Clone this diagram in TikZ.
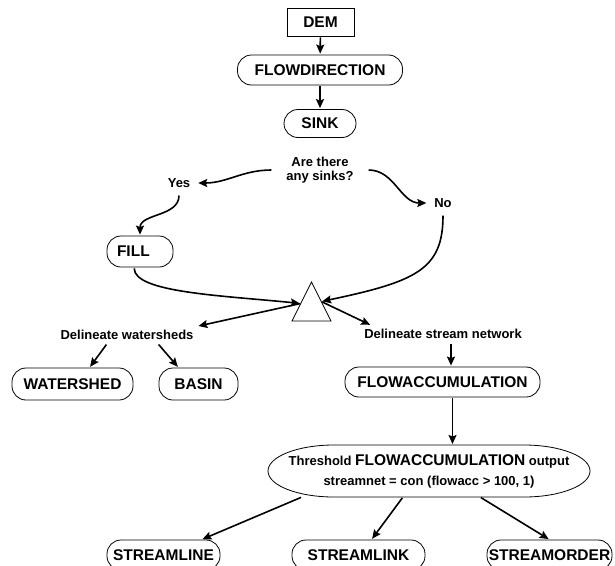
\documentclass[tikz,border=0pt]{standalone}
\usepackage{fontspec}
\setmainfont{Liberation Sans}
\usetikzlibrary{arrows.meta,calc}
\tikzstyle{edge}  =[->, >={Stealth[length=9pt,width=8pt,inset=1.5pt]},
                    line width=1.6pt, shorten <=1pt, shorten >=1pt]
\tikzstyle{tool}  =[draw, rounded corners=14pt, line width=0.8pt,
                    inner sep=0pt, minimum height=30pt,
                    font=\bfseries\fontsize{15.5}{18}\selectfont]
\tikzstyle{note}  =[inner sep=2pt, outer sep=2pt, align=center,
                    font=\bfseries\fontsize{13}{14.5}\selectfont]

\begin{document}
\begin{tikzpicture}[x=1pt, y=1pt]
            \useasboundingbox (0,0) rectangle (615,-565);
            \node[tool, sharp corners, minimum width=67pt, minimum height=28pt] (dem) at (320.5,-22) {DEM};
            \node[tool, minimum width=165pt] (fdir) at (320,-70) {FLOWDIRECTION};
            \node[tool, minimum width=72pt, minimum height=28pt] (sink) at (320,-123.5) {SINK};
            \node[note, outer sep=12pt] (query) at (320,-170) {Are there\\any sinks?};
            \node[note, outer sep=5pt] (yes) at (179,-183) {Yes};
            \node[note, outer sep=5pt] (no) at (443,-203) {No};
            \node[tool, minimum height=31pt, text width=46pt, inner xsep=10pt] (fill) at (140,-251.5) {FILL};
            \node[note] (shed) at (127,-335) {Delineate watersheds};
            \node[note] (net) at (443,-334) {Delineate stream network};
            \node[tool, minimum width=121pt, minimum height=32pt] (wshed) at (72.5,-384) {WATERSHED};
            \node[tool, minimum width=79pt, minimum height=32pt] (basin) at (198.5,-384) {BASIN};
            \node[tool, minimum width=195pt] (flowacc) at (442.5,-382) {FLOWACCUMULATION};
            \node[note, minimum width=322pt, minimum height=52pt, inner sep=0pt, outer sep=0pt,
                  font=\bfseries\fontsize{13}{20}\selectfont] (thresh) at (429,-471)
                  {Threshold {\fontsize{15.5}{20}\selectfont FLOWACCUMULATION} output\\streamnet = con (flowacc > 100, 1)};
            \node[tool, minimum width=113pt] (sline) at (163.5,-555) {STREAMLINE};
            \node[tool, minimum width=133pt] (slink) at (358.5,-555) {STREAMLINK};
            \node[tool, minimum width=125pt] (sorder) at (549.5,-555) {STREAMORDER};

            % threshold outline
            \draw[line width=0.8pt] ([xshift=-95pt]thresh.north)
                arc[start angle=90, end angle=270, x radius=66pt, y radius=26pt]
                -- ([xshift=95pt]thresh.south)
                arc[start angle=-90, end angle=90, x radius=66pt, y radius=26pt] -- cycle;

            % junction
            \coordinate (apex) at (311.5,-282);
            \coordinate (base-l) at (292,-321);
            \coordinate (base-r) at (331,-321);
            \draw[line width=0.7pt] (apex) -- (base-l) -- (base-r) -- cycle;
            \coordinate (join-l) at ($(apex)!0.55!(base-l)$);
            \coordinate (join-r) at ($(apex)!0.5!(base-r)$);

            \draw[edge] (dem) -- (fdir);
            \draw[edge] (fdir) -- (sink);
            \draw[edge] (query.west) to[out=180, in=0] (yes.east);
            \draw[edge] (query.east) to[out=0, in=180] (no.west);
            \draw[edge] (yes.south) to[out=-90, in=90] (fill.north);
            \draw[edge] (fill.250) .. controls +(0,-25) and +(-80,8) .. (join-l);
            \draw[edge] (no.south) .. controls +(0,-55) and +(95,20) .. (join-r);
            \draw[edge] (join-l) -- (shed.north east);
            \draw[edge] (join-r) -- ([xshift=-72pt]net.north);
            \draw[edge] ([xshift=-20pt]shed.south) -- ([xshift=17pt]wshed.north);
            \draw[edge] ([xshift=31pt]shed.south) -- ([xshift=-20pt]basin.north);
            \draw[edge] ([xshift=8pt]net.south) -- ([xshift=8pt]net.south |- flowacc.north);
            \draw[edge] ([xshift=10pt]flowacc.south) -- ([xshift=10pt]flowacc.south |- thresh.north);
            \draw[edge] ([xshift=-127pt]thresh.south) -- ([xshift=38pt]sline.north);
            \draw[edge] ([xshift=-26pt]thresh.south) -- ([xshift=13pt]slink.north);
            \draw[edge] ([xshift=51pt]thresh.south) -- (sorder.north);

        \end{tikzpicture}
\end{document}
